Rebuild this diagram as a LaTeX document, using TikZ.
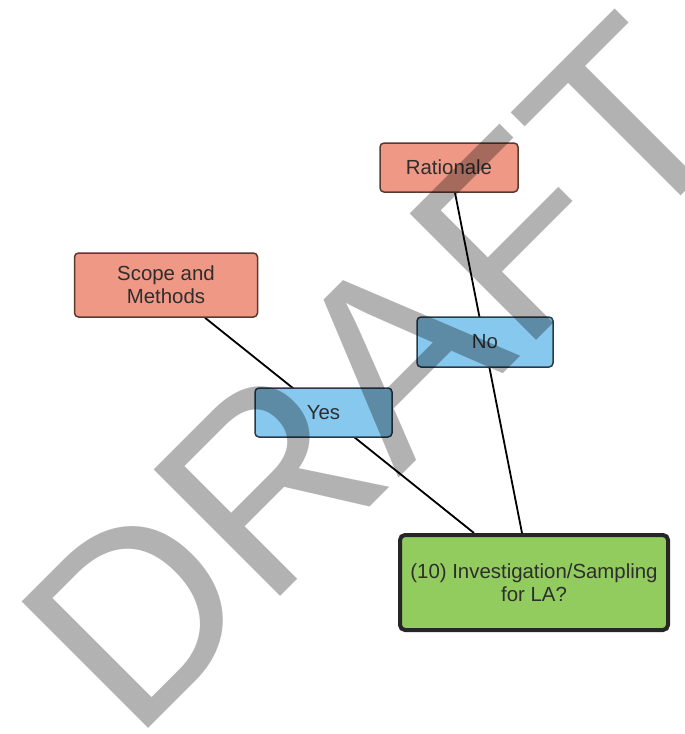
\documentclass[tikz,border=0pt]{standalone}
\usepackage{fontspec}
\setmainfont{Liberation Sans}
\usetikzlibrary{calc,backgrounds}
\definecolor{salmonfill}{HTML}{EE9885}
\definecolor{salmonline}{HTML}{5A3A30}
\definecolor{bluefill}{HTML}{86C8EE}
\definecolor{blueline}{HTML}{2A3A48}
\definecolor{greenfill}{HTML}{92CC5F}
\definecolor{txt}{HTML}{2E2E2E}
\begin{document}
\begin{tikzpicture}[x=1pt,y=-1pt,
  basebox/.style={rounded corners=4pt, inner sep=0pt, align=center, text=txt,
    font=\fontsize{20.4}{23}\selectfont},
  redbox/.style={basebox, draw=salmonline, fill=salmonfill, line width=1.5pt},
  bluebox/.style={basebox, draw=blueline, fill=bluefill, line width=1.5pt},
  mainbox/.style={basebox, draw=black!85, fill=greenfill, line width=4pt, rounded corners=5pt},
  link/.style={draw=black, line width=1.8pt}]
\useasboundingbox (0,0) rectangle (685,734);

\node[redbox, minimum width=138pt, minimum height=49pt] (rat) at (449,167.5) {Rationale};
\node[redbox, minimum width=183pt, minimum height=64pt] (scope) at (166,285) {Scope and\\Methods};
\node[bluebox, minimum width=136pt, minimum height=50pt] (no) at (485,342) {No};
\node[bluebox, minimum width=137pt, minimum height=49pt] (yes) at (323.5,412.5) {Yes};
\node[mainbox, minimum width=268pt, minimum height=95pt] (main) at (534,582.5) {(10) Investigation/Sampling\\for LA?};

\begin{scope}[on background layer]
  \fill[white] (0,0) rectangle (685,734);
  \draw[link] ($(rat.south)+(6,0)$) -- ($(main.north)+(-12,0)$);
  \draw[link] ($(scope.south)+(39,0)$) -- ($(main.north)+(-60,0)$);
\end{scope}

\node[anchor=base west, rotate=45, inner sep=0pt, text=black, text opacity=0.3,
  font=\fontsize{260}{300}\selectfont] (wm) at (133,744) {DRAFT};
\end{tikzpicture}
\end{document}
